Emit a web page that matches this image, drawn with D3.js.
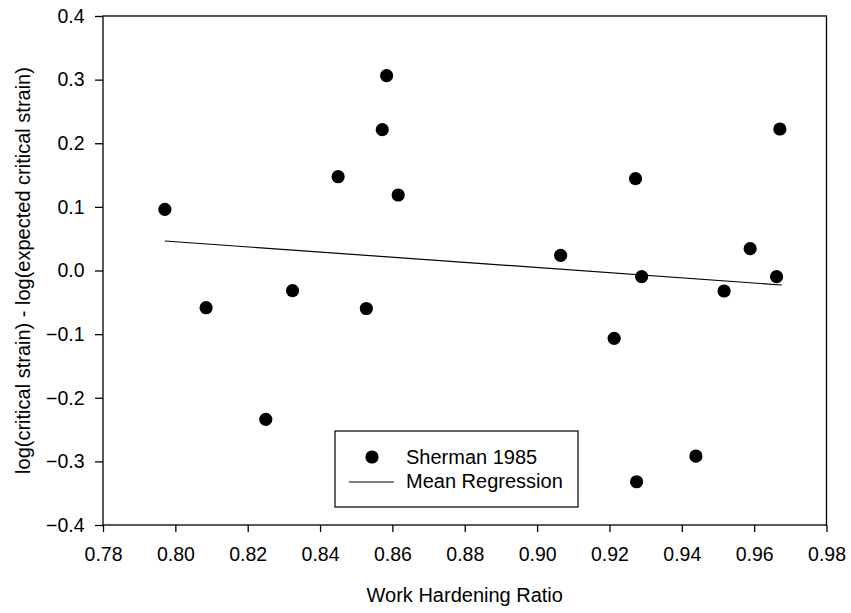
<!DOCTYPE html>
<html><head><meta charset="utf-8">
<script src="https://cdn.jsdelivr.net/npm/d3@7"></script>
<style>body{margin:0;background:#fff}svg{display:block}text{font-family:"Liberation Sans",Arial,sans-serif;fill:#000}</style>
</head><body>
<script>
const xTicks = [0.78,0.80,0.82,0.84,0.86,0.88,0.90,0.92,0.94,0.96,0.98];
const yTicks = [-0.4,-0.3,-0.2,-0.1,0.0,0.1,0.2,0.3,0.4];
const workHardening = [0.7971,0.8085,0.8250,0.8324,0.8450,0.8528,0.8572,0.8584,0.8616,0.9065,0.9213,0.9272,0.9289,0.9275,0.9439,0.9517,0.9589,0.9662,0.9671];
const logDiff = [0.0962,-0.0585,-0.2339,-0.0317,0.1474,-0.0597,0.2213,0.3062,0.1187,0.0239,-0.1066,0.1443,-0.0097,-0.3320,-0.2916,-0.0322,0.0343,-0.0097,0.2224];
const regX = [0.7971,0.9676];
const regY = [0.0464,-0.0228];
const seriesNames = ["Sherman 1985","Mean Regression"];

const W=851,H=613, L=103,R=826.5,T=16,B=525;
const svg=d3.select("body").append("svg").attr("width",W).attr("height",H);
const x=d3.scaleLinear().domain([0.78,0.98]).range([L,R]);
const y=d3.scaleLinear().domain([-0.4,0.4]).range([B,T]);

svg.append("rect").attr("x",L).attr("y",T).attr("width",R-L).attr("height",B-T)
  .attr("fill","none").attr("stroke","#000").attr("stroke-width",1.3);

const fmtX=d3.format(".2f"), fmtY=d3.format(".1f");
const ax=svg.append("g").attr("transform",`translate(0,${B})`)
  .call(d3.axisBottom(x).tickValues(xTicks).tickFormat(fmtX).tickSize(7).tickPadding(15));
const ay=svg.append("g").attr("transform",`translate(${L},0)`)
  .call(d3.axisLeft(y).tickValues(yTicks).tickFormat(fmtY).tickSize(8).tickPadding(10.5));
[ax,ay].forEach(g=>{
  g.select(".domain").remove();
  g.selectAll(".tick line").attr("stroke","#000").attr("stroke-width",1.3);
  g.selectAll(".tick text").style("font-size","19.5px").style("font-family","'Liberation Sans',Arial,sans-serif").attr("fill","#000");
});

svg.append("path").datum(d3.range(regX.length))
  .attr("d",d3.line().x(i=>x(regX[i])).y(i=>y(regY[i])))
  .attr("stroke","#000").attr("stroke-width",1.2).attr("fill","none");

svg.append("g").selectAll("circle").data(d3.range(workHardening.length)).join("circle")
  .attr("cx",i=>x(workHardening[i])).attr("cy",i=>y(logDiff[i])).attr("r",6.6).attr("fill","#000");

svg.append("text").attr("x",(L+R)/2).attr("y",602).attr("text-anchor","middle")
  .style("font-size","20px").text("Work Hardening Ratio");
svg.append("text").attr("transform",`translate(30,${(T+B)/2}) rotate(-90)`).attr("text-anchor","middle")
  .style("font-size","20px").text("log(critical strain) - log(expected critical strain)");

const lg=svg.append("g");
lg.append("rect").attr("x",335).attr("y",431).attr("width",243).attr("height",76)
  .attr("fill","#fff").attr("stroke","#000").attr("stroke-width",1.2);
lg.append("circle").attr("cx",372).attr("cy",457).attr("r",6.6).attr("fill","#000");
lg.append("line").attr("x1",349).attr("x2",394).attr("y1",482).attr("y2",482).attr("stroke","#000").attr("stroke-width",1.2);
lg.append("text").attr("x",406).attr("y",463.5).style("font-size","20px").text(seriesNames[0]);
lg.append("text").attr("x",406).attr("y",487.8).style("font-size","20px").text(seriesNames[1]);
</script>
</body></html>
